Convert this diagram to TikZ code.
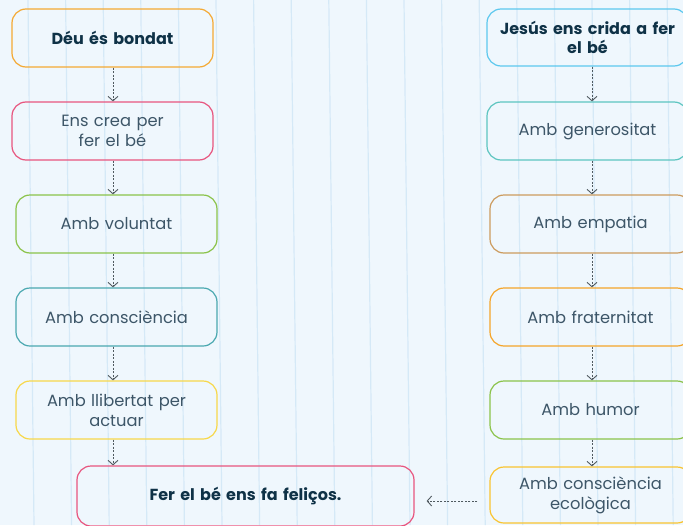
\documentclass[tikz,border=0pt]{standalone}
\usepackage{fontspec}
\setmainfont{Poppins}
\usetikzlibrary{arrows.meta}
\definecolor{bg}{HTML}{EFF7FD}
\definecolor{gridline}{HTML}{D5E9F7}
\definecolor{bodytxt}{HTML}{3D5668}
\definecolor{boldtxt}{HTML}{0F3247}
\definecolor{cOrange}{HTML}{F4A933}
\definecolor{cPink}{HTML}{E8557F}
\definecolor{cGreen}{HTML}{8BC34A}
\definecolor{cTeal}{HTML}{4AA8B0}
\definecolor{cYellow}{HTML}{F7D84A}
\definecolor{cBlue}{HTML}{5CC8EE}
\definecolor{cTealR}{HTML}{5DC5C0}
\definecolor{cTan}{HTML}{CC9B5E}
\definecolor{cOrangeR}{HTML}{F5A52A}
\definecolor{cYellowR}{HTML}{F9C430}
\definecolor{arrowc}{HTML}{505A60}
\newcommand\tbody{\fontsize{16.3pt}{20pt}\selectfont}
\newcommand\tbold{\fontsize{16pt}{18.5pt}\selectfont\bfseries}
\tikzset{
  topic/.style={draw=#1, line width=1.2pt, rounded corners=14pt, minimum width=201pt,
    minimum height=58pt, inner sep=0pt, align=center, text width=190pt,
    font=\tbody, text=bodytxt},
  maintopic/.style={topic=#1, font=\tbold, text=boldtxt},
  conn/.style={draw=arrowc, line width=0.9pt, dash pattern=on 2pt off 1.5pt,
    -{Straight Barb[length=4.5pt,width=10pt,line width=0.9pt]}}
}
\begin{document}
\begin{tikzpicture}[x=1pt,y=-1pt]
\fill[bg] (0,0) rectangle (683,525);
\useasboundingbox (0,0) rectangle (683,525);
\foreach \k in {0,...,18}{
  \draw[gridline, line width=1.2pt] (28+37.6*\k,0) -- (34+37.6*\k,525);
}
% left column
\node[maintopic=cOrange] (L1) at (112.5,38) {Déu és bondat};
\node[topic=cPink] (L2) at (112.5,131) {Ens crea per\\fer el bé};
\node[topic=cGreen] (L3) at (116.5,224) {Amb voluntat};
\node[topic=cTeal] (L4) at (116.5,317) {Amb consciència};
\node[topic=cYellow] (L5) at (116.5,410) {Amb llibertat per\\actuar};
\node[maintopic=cPink, minimum width=337pt, minimum height=60pt, text width=300pt] (L6) at (245.5,496) {Fer el bé ens fa feliços.};
% right column
\node[maintopic=cBlue, minimum height=57pt] (R1) at (587.5,37.5) {Jesús ens crida a fer\\el bé};
\node[topic=cTealR] (R2) at (587.5,131) {Amb generositat};
\node[topic=cTan] (R3) at (590.5,224) {Amb empatia};
\node[topic=cOrangeR] (R4) at (590.5,317) {Amb fraternitat};
\node[topic=cGreen] (R5) at (590.5,410) {Amb humor};
\node[topic=cYellowR, minimum height=56pt] (R6) at (590.5,495) {Amb consciència\\ecològica};
% axis coordinates
\coordinate (lx) at (113,0);
\coordinate (rx) at (592,0);
% connectors
\draw[conn] (L1.south -| lx) -- (L2.north -| lx);
\draw[conn] (L2.south -| lx) -- (L3.north -| lx);
\draw[conn] (L3.south -| lx) -- (L4.north -| lx);
\draw[conn] (L4.south -| lx) -- (L5.north -| lx);
\draw[conn] (L5.south -| lx) -- (L6.north -| lx);
\draw[conn] (R1.south -| rx) -- (R2.north -| rx);
\draw[conn] (R2.south -| rx) -- (R3.north -| rx);
\draw[conn] (R3.south -| rx) -- (R4.north -| rx);
\draw[conn] (R4.south -| rx) -- (R5.north -| rx);
\draw[conn] (R5.south -| rx) -- (R6.north -| rx);
\draw[conn, shorten <=12pt, shorten >=12pt] ([yshift=-6pt]R6.west) -- ([yshift=-6pt]R6.west -| L6.east);
\end{tikzpicture}
\end{document}
